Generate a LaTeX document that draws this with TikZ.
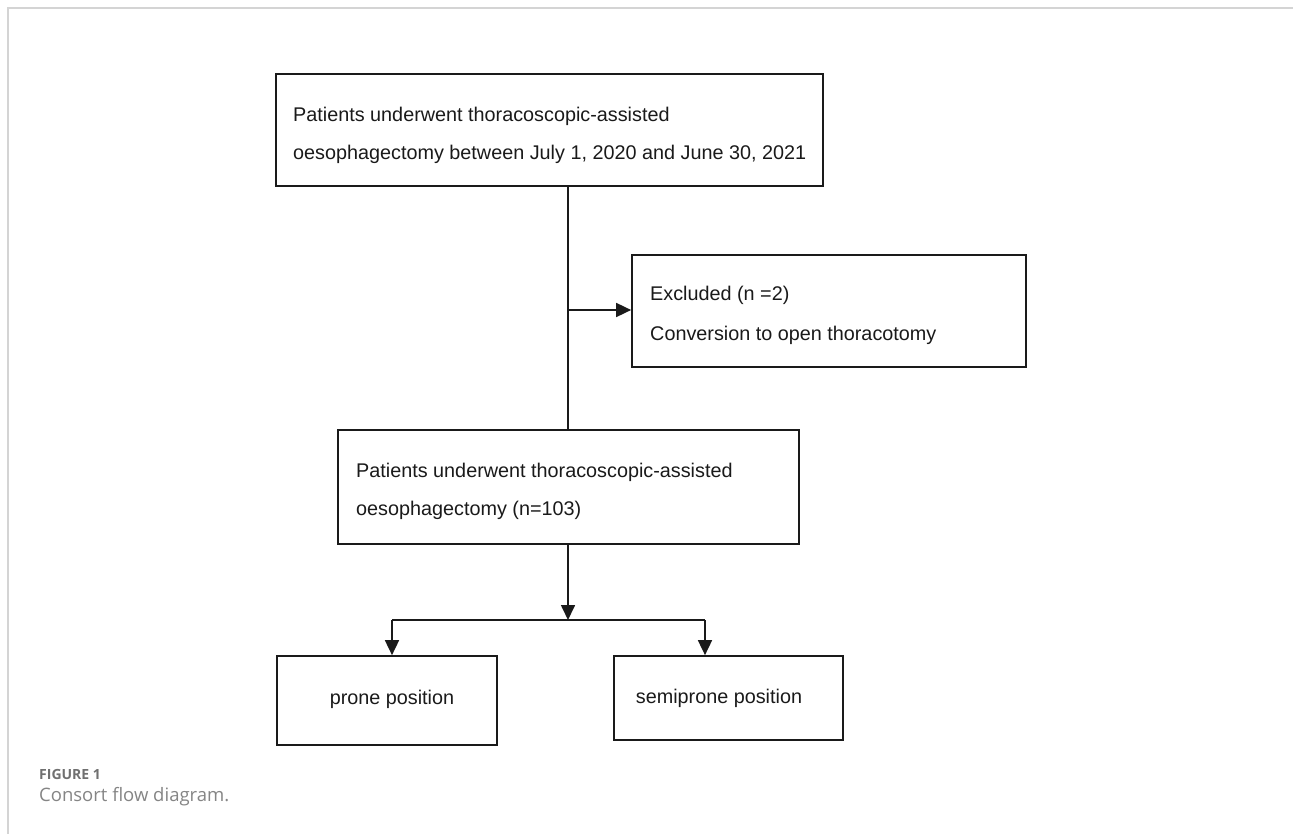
\documentclass[tikz,border=0pt]{standalone}
\usepackage{fontspec}
\setmainfont{Liberation Sans}
\newfontfamily\capfont{Open Sans}
\usetikzlibrary{arrows.meta}
\definecolor{frame}{HTML}{D4D4D4}
\definecolor{capgray}{HTML}{707070}
\definecolor{ink}{HTML}{1A1A1A}
\begin{document}
\begin{tikzpicture}[x=1pt,y=-1pt,
  box/.style={draw=ink, line width=1.7pt, rectangle, inner sep=0pt},
  txt/.style={inner sep=0pt, anchor=west, align=left, text=ink,
    font=\fontsize{19.8}{38}\selectfont},
  conn/.style={draw=ink, line width=1.7pt},
  arr/.style={conn, -{Triangle[length=15pt,width=14pt]}},
]
\useasboundingbox (0,0) rectangle (1293,834);
\fill[white] (0,0) rectangle (1293,834);
\draw[frame, line width=1.5pt] (8,834) -- (8,8) -- (1293,8);

% boxes
\node[box, minimum width=547pt, minimum height=112pt] (b1) at (549.5,130) {};
\node[txt] (t1) at (293,135) {Patients underwent thoracoscopic-assisted\\oesophagectomy between July 1, 2020 and June 30, 2021};

\node[box, minimum width=394pt, minimum height=112pt] (ex) at (829,311) {};
\node[txt, font=\fontsize{19.8}{40}\selectfont] (tex) at (650,315) {Excluded (n =2)\\Conversion to open thoracotomy};

\node[box, minimum width=461pt, minimum height=114pt] (b2) at (568.5,487) {};
\node[txt] (t2) at (356,491) {Patients underwent thoracoscopic-assisted\\oesophagectomy (n=103)};

\node[box, minimum width=220pt, minimum height=89pt] (pr) at (387,700.5) {};
\node[txt, anchor=center] (tpr) at (392,699) {prone position};

\node[box, minimum width=229pt, minimum height=84pt] (sp) at (728.5,698) {};
\node[txt, anchor=center] (tsp) at (719,698) {semiprone position};

% connectors
\coordinate (ja) at (568,310);
\coordinate (hb) at (568,620);
\coordinate (hl) at (392,620);
\coordinate (hr) at (705,620);
\draw[conn] (b1.south -| hb) -- (b2.north -| hb);
\draw[arr] (ja) -- (ex.west |- ja);
\draw[arr] (b2.south -| hb) -- (hb);
\draw[conn] (hl) -- (hr);
\draw[arr] (hl) -- (pr.north -| hl);
\draw[arr] (hr) -- (sp.north -| hr);

% caption
\node[inner sep=0pt, anchor=west, text=capgray, font=\capfont\bfseries\fontsize{14}{16}\selectfont] (fig) at (39,774) {FIGURE 1};
\node[inner sep=0pt, anchor=west, text=capgray!85, font=\capfont\fontsize{18.5}{20}\selectfont] (cap) at (39,797) {Consort flow diagram.};
\end{tikzpicture}
\end{document}
